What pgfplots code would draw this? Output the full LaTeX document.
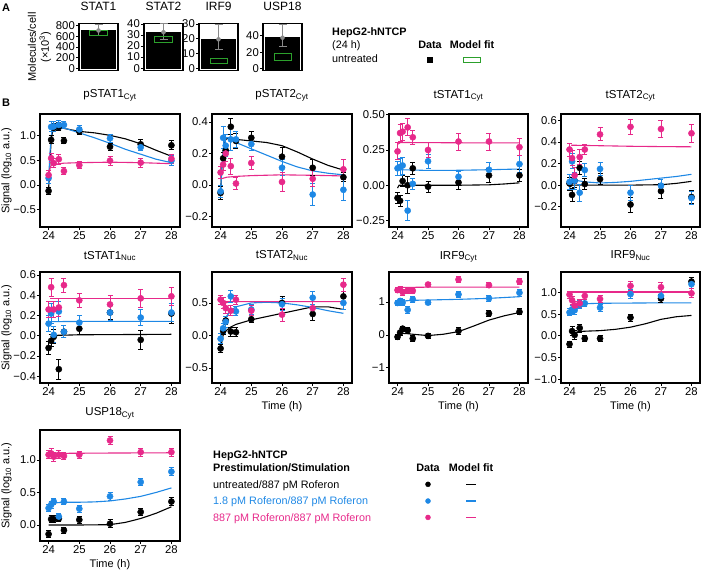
\documentclass[border=0pt]{standalone}
\usepackage{fontspec}
\setmainfont{Liberation Sans}
\usepackage{pgfplots}
\pgfplotsset{compat=1.18}

\definecolor{cblk}{HTML}{000000}
\definecolor{cblu}{HTML}{1E88E5}
\definecolor{cpnk}{HTML}{E7298A}
\definecolor{cgrn}{HTML}{2CA02C}
\definecolor{cerr}{HTML}{8A8A8A}

\newcommand\fTick{\fontsize{11.3}{12}\selectfont}
\newcommand\fTitle{\fontsize{11.5}{13}\selectfont}
\newcommand\fLab{\fontsize{11}{13}\selectfont}
\newcommand\fLeg{\fontsize{10.8}{12}\selectfont}

\pgfplotsset{
  base/.style={scale only axis, anchor=south west,
    axis line style={line width=1.2pt}, tick style={black, line width=0.8pt},
    tick align=outside, major tick length=3pt, xtick pos=bottom, ytick pos=left,
    tick label style={font=\fTick}, xticklabel style={inner sep=1pt}, yticklabel style={inner sep=1pt},
    title style={font=\fTitle, at={(axis description cs:0.5,1)}, anchor=base, inner sep=0pt},
    label style={font=\fLab}},
  panel/.style={base, width=140pt, xmin=23.72, xmax=28.28,
    xtick={24,25,26,27,28}, xticklabels={24,25,26,27,28}},
  sig/.style={ylabel={Signal (log\textsubscript{10} a.u.)},
    ylabel style={at={(axis description cs:-0.239,0.5)}, anchor=center}},
  tim/.style={xlabel={Time (h)},
    xlabel style={at={(axis description cs:0.5,0)}, anchor=center, yshift=-24pt}},
  fit/.style={line width=1.1pt, no marks},
  dat/.style={only marks, mark=*, mark size=3.1pt,
    error bars/y dir=both, error bars/y explicit,
    error bars/error bar style={line width=0.9pt, solid},
    error bars/error mark options={rotate=90, mark size=2.5pt, line width=0.9pt}},
  whisk/.style={cerr, only marks, mark=none, error bars/y dir=both, error bars/y explicit,
    error bars/error bar style={line width=1pt},
    error bars/error mark options={rotate=90, mark size=4pt, line width=1pt}},
  bar/.style={base, width=39pt, height=47.5pt, xmin=0.43, xmax=1.57, xtick=\empty,
    title style={yshift=6.5pt, font=\fontsize{12}{14}\selectfont}},
}

\begin{document}
\begin{tikzpicture}
\path[use as bounding box] (0pt,0pt) rectangle (701pt,-572pt);

% ---------- panel A ----------
\begin{axis}[bar, at={(79pt,-70.8pt)}, ymin=-45, ymax=845,
  ytick={0,200,400,600,800}, yticklabels={0,200,400,600,800}, title={STAT1},
  ylabel={Molecules/cell\\(×10\textsuperscript{3})},
  ylabel style={align=center, at={(axis description cs:-1.01,0.5)}, anchor=center}]
\addplot[ybar, bar width=1, fill=black, draw=black] coordinates {(1,710)};
\addplot[whisk] coordinates {(1,710) += (0,110) -= (0,100)};
\addplot[cgrn, line width=0.9pt] coordinates {(0.75,610)(1.25,610)(1.25,720)(0.75,720)(0.75,610)};
\end{axis}

\begin{axis}[bar, at={(144pt,-70.8pt)}, ymin=-2.4, ymax=40.6,
  ytick={0,10,20,30,40}, yticklabels={0,10,20,30,40}, title={STAT2}]
\addplot[ybar, bar width=1, fill=black, draw=black] coordinates {(1,32.5)};
\addplot[whisk] coordinates {(1,32.5) += (0,7.5) -= (0,6.5)};
\addplot[cgrn, line width=0.9pt] coordinates {(0.75,23.2)(1.25,23.2)(1.25,28.6)(0.75,28.6)(0.75,23.2)};
\end{axis}

\begin{axis}[bar, at={(199pt,-70.8pt)}, ymin=-1.8, ymax=30.5,
  ytick={0,10,20,30}, yticklabels={0,10,20,30}, title={IRF9}]
\addplot[ybar, bar width=1, fill=black, draw=black] coordinates {(1,19.6)};
\addplot[whisk] coordinates {(1,19.6) += (0,10.4) -= (0,6.7)};
\addplot[cgrn, line width=0.9pt] coordinates {(0.75,2.9)(1.25,2.9)(1.25,6.8)(0.75,6.8)(0.75,2.9)};
\end{axis}

\begin{axis}[bar, at={(263pt,-70.8pt)}, ymin=-2.4, ymax=55,
  ytick={0,20,40}, yticklabels={0,20,40}, title={USP18}]
\addplot[ybar, bar width=1, fill=black, draw=black] coordinates {(1,37.6)};
\addplot[whisk] coordinates {(1,37.6) += (0,16.4) -= (0,10.8)};
\addplot[cgrn, line width=0.9pt] coordinates {(0.75,10)(1.25,10)(1.25,18)(0.75,18)(0.75,10)};
\end{axis}

% ---------- panel B, row 1 ----------
\begin{axis}[panel, sig, at={(40pt,-227pt)}, height=113pt, title={pSTAT1\textsubscript{Cyt}},
  title style={yshift=10pt}, ymin=-0.845, ymax=1.43,
  ytick={-0.5,0,0.5,1}, yticklabels={−0.5,0.0,0.5,1.0}]
\addplot[cblk, fit] coordinates {(24,-0.1)(24.04,0.45)(24.08,0.85)(24.12,1.05)(24.17,1.13)(24.25,1.16)(24.35,1.16)(24.5,1.14)(25,1.08)(25.5,1.05)(26,1.0)(26.5,0.93)(27,0.83)(27.5,0.7)(28,0.58)};
\addplot[cblu, fit] coordinates {(24,0.1)(24.04,0.6)(24.08,0.95)(24.12,1.12)(24.17,1.18)(24.25,1.2)(24.35,1.19)(24.5,1.15)(25,1.05)(25.5,0.95)(26,0.84)(26.5,0.72)(27,0.62)(27.5,0.52)(28,0.45)};
\addplot[cpnk, fit] coordinates {(24,0.18)(24.05,0.35)(24.1,0.41)(24.2,0.42)(24.5,0.44)(25,0.45)(26,0.46)(27,0.45)(28,0.43)};
\addplot[cblk, dat] table[y error index=2]{
24 -0.12 0.07
24.083 0.91 0.08
24.167 1.15 0.08
24.333 1.17 0.08
24.5 0.89 0.06
25 1.08 0.07
26 0.77 0.07
27 0.82 0.09
28 0.80 0.09
};
\addplot[cblu, dat] table[y error index=2]{
24 0.14 0.1
24.083 1.17 0.1
24.167 1.18 0.1
24.333 1.21 0.09
24.5 1.21 0.08
25 1.12 0.08
26 0.94 0.08
27 0.76 0.07
28 0.49 0.1
};
\addplot[cpnk, dat] table[y error index=2]{
24 0.20 0.1
24.083 0.54 0.09
24.167 0.44 0.09
24.333 0.52 0.1
24.5 0.28 0.07
25 0.40 0.07
26 0.49 0.09
27 0.45 0.09
28 0.53 0.09
};
\end{axis}

\begin{axis}[panel, at={(212pt,-227pt)}, height=113pt, title={pSTAT2\textsubscript{Cyt}},
  title style={yshift=10pt}, ymin=-0.266, ymax=0.451,
  ytick={-0.2,0,0.2,0.4}, yticklabels={−0.2,0.0,0.2,0.4}]
\addplot[cblk, fit] coordinates {(24,-0.04)(24.04,0.1)(24.08,0.2)(24.12,0.26)(24.17,0.29)(24.25,0.3)(24.5,0.29)(25,0.28)(25.5,0.27)(26,0.25)(26.5,0.21)(27,0.165)(27.5,0.125)(28,0.095)};
\addplot[cblu, fit] coordinates {(24,-0.04)(24.04,0.1)(24.08,0.22)(24.12,0.28)(24.17,0.3)(24.25,0.3)(24.5,0.27)(25,0.23)(25.5,0.19)(26,0.15)(26.5,0.115)(27,0.09)(27.5,0.075)(28,0.065)};
\addplot[cpnk, fit] coordinates {(24.02,0.04)(24.2,0.05)(24.5,0.055)(25,0.06)(26,0.065)(27,0.062)(28,0.058)};
\addplot[cblk, dat] table[y error index=2]{
24 -0.05 0.04
24.083 0.17 0.04
24.167 0.22 0.04
24.333 0.37 0.05
24.5 0.28 0.05
25 0.30 0.04
26 0.18 0.06
27 0.11 0.05
28 0.05 0.03
};
\addplot[cblu, dat] table[y error index=2]{
24 -0.04 0.04
24.083 0.30 0.07
24.167 0.25 0.07
24.333 0.29 0.07
24.5 0.29 0.05
25 0.26 0.04
26 0.11 0.05
27 -0.06 0.07
28 -0.03 0.07
};
\addplot[cpnk, dat] table[y error index=2]{
24 0.08 0.04
24.083 0.13 0.04
24.167 0.20 0.05
24.333 0.12 0.05
24.5 0.01 0.04
25 0.14 0.04
26 0.02 0.06
27 0.04 0.05
28 0.10 0.065
};
\end{axis}

\begin{axis}[panel, at={(389pt,-227pt)}, width=139pt, height=113pt, title={tSTAT1\textsubscript{Cyt}},
  title style={yshift=10pt}, ymin=-0.296, ymax=0.505,
  ytick={-0.25,0,0.25,0.5}, yticklabels={−0.25,0.00,0.25,0.50}]
\addplot[cblk, fit] coordinates {(24,-0.02)(24.05,0.0)(25,0.0)(26,0.0)(27,0.003)(27.5,0.009)(28,0.017)};
\addplot[cblu, fit] coordinates {(24,0.12)(24.1,0.11)(25,0.105)(26,0.106)(27,0.11)(28,0.115)};
\addplot[cpnk, fit] coordinates {(24,0.29)(24.1,0.303)(25,0.302)(26,0.301)(27,0.3)(28,0.3)};
\addplot[cblk, dat] table[y error index=2]{
24 -0.09 0.04
24.083 -0.11 0.04
24.167 0.03 0.04
24.333 0.00 0.06
24.5 0.12 0.04
25 -0.01 0.04
26 0.02 0.05
27 0.07 0.05
28 0.07 0.04
};
\addplot[cblu, dat] table[y error index=2]{
24 0.12 0.05
24.083 0.13 0.06
24.167 0.14 0.06
24.333 -0.18 0.07
24.5 0.01 0.04
25 0.17 0.05
26 0.06 0.04
27 0.11 0.05
28 0.15 0.06
};
\addplot[cpnk, dat] table[y error index=2]{
24 0.24 0.06
24.083 0.37 0.06
24.167 0.38 0.06
24.333 0.41 0.06
24.5 0.34 0.05
25 0.25 0.05
26 0.31 0.06
27 0.31 0.06
28 0.27 0.06
};
\end{axis}

\begin{axis}[panel, at={(561pt,-227pt)}, width=139pt, height=113pt, title={tSTAT2\textsubscript{Cyt}},
  title style={yshift=10pt}, ymin=-0.388, ymax=0.659,
  ytick={-0.2,0,0.2,0.4,0.6}, yticklabels={−0.2,0.0,0.2,0.4,0.6}]
\addplot[cblk, fit] coordinates {(24,-0.02)(24.1,0.0)(25,0.0)(26,0.0)(27,0.004)(27.5,0.016)(28,0.035)};
\addplot[cblu, fit] coordinates {(24,0.08)(24.1,0.05)(24.5,0.03)(25,0.02)(25.5,0.025)(26,0.035)(26.5,0.05)(27,0.065)(27.5,0.08)(28,0.1)};
\addplot[cpnk, fit] coordinates {(24.05,0.37)(25,0.365)(26,0.36)(27,0.357)(28,0.355)};
\addplot[cblk, dat] table[y error index=2]{
24 0.015 0.06
24.083 -0.09 0.06
24.167 0.04 0.06
24.333 0.16 0.06
24.5 0.01 0.05
25 0.055 0.05
26 -0.18 0.07
27 -0.055 0.07
28 -0.11 0.06
};
\addplot[cblu, dat] table[y error index=2]{
24 0.03 0.07
24.083 0.22 0.07
24.167 0.04 0.08
24.333 -0.07 0.08
24.5 0.14 0.06
25 0.15 0.06
26 -0.07 0.07
27 -0.005 0.06
28 -0.12 0.06
};
\addplot[cpnk, dat] table[y error index=2]{
24 0.33 0.06
24.083 0.25 0.07
24.167 0.09 0.07
24.333 0.26 0.07
24.5 0.33 0.05
25 0.47 0.06
26 0.54 0.07
27 0.52 0.08
28 0.48 0.08
};
\end{axis}

% ---------- panel B, row 2 ----------
\begin{axis}[panel, sig, at={(40pt,-383pt)}, height=111pt, title={tSTAT1\textsubscript{Nuc}},
  title style={yshift=7pt}, ymin=-0.466, ymax=0.63,
  ytick={-0.4,-0.2,0,0.2,0.4,0.6}, yticklabels={−0.4,−0.2,0.0,0.2,0.4,0.6}]
\addplot[cblk, fit] coordinates {(24.1,-0.02)(24.3,0.005)(25,0.01)(26,0.012)(27,0.013)(28,0.015)};
\addplot[cblu, fit] coordinates {(24,0.12)(24.1,0.14)(25,0.142)(26,0.142)(27,0.142)(28,0.142)};
\addplot[cpnk, fit] coordinates {(24.05,0.37)(25,0.37)(26,0.37)(27,0.37)(28,0.37)};
\addplot[cblk, dat] table[y error index=2]{
24 -0.12 0.06
24.083 -0.05 0.06
24.167 -0.01 0.07
24.333 -0.33 0.1
24.5 0.04 0.06
25 0.07 0.06
26 0.23 0.07
27 -0.04 0.09
28 0.22 0.1
};
\addplot[cblu, dat] table[y error index=2]{
24 0.12 0.08
24.083 0.22 0.1
24.167 0.01 0.08
24.333 0.24 0.1
24.5 0.04 0.06
25 0.13 0.07
26 0.23 0.08
27 0.18 0.08
28 0.23 0.09
};
\addplot[cpnk, dat] table[y error index=2]{
24 0.26 0.08
24.083 0.48 0.09
24.167 0.26 0.08
24.333 0.28 0.09
24.5 0.50 0.07
25 0.35 0.07
26 0.31 0.09
27 0.37 0.09
28 0.39 0.09
};
\end{axis}

\begin{axis}[panel, tim, at={(212pt,-383pt)}, height=111pt, title={tSTAT2\textsubscript{Nuc}},
  title style={yshift=7pt}, ymin=-0.73, ymax=0.975,
  ytick={-0.5,0,0.5}, yticklabels={−0.5,0.0,0.5}]
\addplot[cblk, fit] coordinates {(24,-0.2)(24.08,0.0)(24.17,0.07)(24.33,0.13)(24.5,0.17)(25,0.24)(25.5,0.29)(26,0.34)(26.5,0.39)(27,0.44)(27.5,0.44)(28,0.4)};
\addplot[cblu, fit] coordinates {(24,-0.05)(24.08,0.15)(24.17,0.28)(24.33,0.38)(24.5,0.44)(25,0.5)(25.5,0.51)(26,0.5)(26.5,0.47)(27,0.43)(27.5,0.38)(28,0.34)};
\addplot[cpnk, fit] coordinates {(24,0.55)(24.1,0.52)(25,0.52)(26,0.52)(27,0.52)(28,0.52)};
\addplot[cblk, dat] table[y error index=2]{
24 -0.20 0.06
24.083 0.07 0.06
24.167 0.23 0.06
24.333 0.06 0.07
24.5 0.05 0.07
25 0.25 0.05
26 0.50 0.1
27 0.33 0.1
28 0.60 0.08
};
\addplot[cblu, dat] table[y error index=2]{
24 -0.05 0.08
24.083 0.11 0.08
24.167 0.21 0.08
24.333 0.60 0.09
24.5 0.37 0.07
25 0.40 0.07
26 0.48 0.09
27 0.58 0.1
28 0.50 0.1
};
\addplot[cpnk, dat] table[y error index=2]{
24 0.55 0.07
24.083 0.50 0.08
24.167 0.42 0.08
24.333 0.38 0.08
24.5 0.55 0.07
25 0.38 0.08
26 0.32 0.1
27 0.42 0.1
28 0.78 0.1
};
\end{axis}

\begin{axis}[panel, tim, at={(389pt,-383pt)}, width=139pt, height=111pt, title={IRF9\textsubscript{Cyt}},
  title style={yshift=7pt}, ymin=-1.46, ymax=1.91,
  ytick={-1,0,1}, yticklabels={−1,0,1}]
\addplot[cblk, fit] coordinates {(24,-0.05)(24.1,0.05)(24.3,0.04)(24.5,0.02)(25,-0.02)(25.5,0.02)(26,0.1)(26.5,0.27)(27,0.45)(27.5,0.58)(28,0.68)};
\addplot[cblu, fit] coordinates {(24,0.98)(24.2,1.03)(24.5,1.05)(25,1.06)(26,1.08)(27,1.11)(28,1.16)};
\addplot[cpnk, fit] coordinates {(24,1.4)(24.1,1.44)(25,1.45)(26,1.45)(27,1.45)(28,1.45)};
\addplot[cblk, dat] table[y error index=2]{
24 -0.06 0.08
24.083 0.07 0.08
24.167 0.19 0.08
24.333 0.14 0.09
24.5 -0.11 0.08
25 -0.03 0.07
26 0.12 0.1
27 0.65 0.09
28 0.70 0.09
};
\addplot[cblu, dat] table[y error index=2]{
24 0.97 0.08
24.083 1.03 0.09
24.167 0.98 0.09
24.333 0.76 0.1
24.5 1.08 0.08
25 0.98 0.07
26 1.23 0.09
27 1.11 0.08
28 1.28 0.1
};
\addplot[cpnk, dat] table[y error index=2]{
24 1.36 0.08
24.083 1.38 0.09
24.167 1.30 0.09
24.333 1.35 0.08
24.5 1.34 0.08
25 1.53 0.07
26 1.68 0.09
27 1.51 0.08
28 1.62 0.1
};
\end{axis}

\begin{axis}[panel, tim, at={(561pt,-383pt)}, width=139pt, height=111pt, title={IRF9\textsubscript{Nuc}},
  title style={yshift=7pt}, ymin=-1.085, ymax=1.47,
  ytick={-1,-0.5,0,0.5,1}, yticklabels={−1.0,−0.5,0.0,0.5,1.0}]
\addplot[cblk, fit] coordinates {(24.05,0.05)(24.3,0.1)(24.6,0.11)(25,0.12)(25.5,0.15)(26,0.2)(26.5,0.28)(27,0.38)(27.5,0.44)(28,0.47)};
\addplot[cblu, fit] coordinates {(24,0.55)(24.1,0.66)(24.2,0.71)(24.5,0.74)(25,0.75)(26,0.755)(27,0.76)(28,0.76)};
\addplot[cpnk, fit] coordinates {(24.05,1.01)(25,1.01)(26,1.01)(27,1.01)(28,1.01)};
\addplot[cblk, dat] table[y error index=2]{
24 -0.19 0.07
24.083 0.11 0.1
24.167 0.02 0.1
24.333 0.18 0.09
24.5 -0.06 0.07
25 -0.06 0.07
26 0.42 0.08
27 0.86 0.1
28 1.25 0.1
};
\addplot[cblu, dat] table[y error index=2]{
24 0.54 0.08
24.083 0.61 0.09
24.167 0.59 0.09
24.333 0.72 0.09
24.5 0.75 0.08
25 0.65 0.08
26 0.96 0.1
27 0.92 0.1
28 1.19 0.1
};
\addplot[cpnk, dat] table[y error index=2]{
24 0.95 0.08
24.083 0.82 0.09
24.167 0.70 0.09
24.333 0.75 0.09
24.5 0.92 0.08
25 0.85 0.08
26 1.15 0.1
27 1.12 0.1
28 0.98 0.1
};
\end{axis}

% ---------- panel B, row 3 ----------
\begin{axis}[panel, sig, tim, at={(40pt,-541pt)}, height=111pt, title={USP18\textsubscript{Cyt}},
  title style={yshift=8.3pt}, ymin=-0.246, ymax=1.46,
  ytick={0,0.5,1}, yticklabels={0.0,0.5,1.0}]
\addplot[cblk, fit] coordinates {(24,0.0)(25,0.0)(26,0.005)(26.5,0.04)(27,0.1)(27.5,0.18)(28,0.28)};
\addplot[cblu, fit] coordinates {(24,0.2)(24.1,0.3)(24.2,0.34)(24.5,0.35)(25,0.35)(25.5,0.355)(26,0.37)(26.5,0.4)(27,0.44)(27.5,0.5)(28,0.57)};
\addplot[cpnk, fit] coordinates {(24,1.1)(25,1.103)(26,1.106)(27,1.108)(28,1.11)};
\addplot[cblk, dat] table[y error index=2]{
24 -0.14 0.05
24.083 0.09 0.05
24.167 0.09 0.05
24.333 0.10 0.05
24.5 -0.08 0.05
25 0.08 0.05
26 0.02 0.06
27 0.20 0.06
28 0.36 0.06
};
\addplot[cblu, dat] table[y error index=2]{
24 0.26 0.05
24.083 0.31 0.05
24.167 0.36 0.05
24.333 0.13 0.05
24.5 0.36 0.05
25 0.25 0.05
26 0.44 0.06
27 0.66 0.05
28 0.82 0.06
};
\addplot[cpnk, dat] table[y error index=2]{
24 1.08 0.06
24.083 1.10 0.07
24.167 1.05 0.07
24.333 1.08 0.06
24.5 1.06 0.05
25 1.08 0.05
26 1.30 0.06
27 1.12 0.06
28 1.12 0.06
};
\end{axis}

% ---------- overlay: panel letters and legends ----------
\begin{axis}[at={(0pt,-572pt)}, anchor=south west, scale only axis, width=701pt, height=572pt,
  xmin=0, xmax=701, ymin=0, ymax=572, y dir=reverse, hide axis, clip=false]
\node[anchor=base west, inner sep=0pt, font=\fontsize{11}{13}\selectfont\bfseries] at (axis cs:2,11.7) {A};
\node[anchor=base west, inner sep=0pt, font=\fontsize{11}{13}\selectfont\bfseries] at (axis cs:2,106.7) {B};
% legend A
\node[anchor=base west, inner sep=0pt, font=\fLeg\bfseries] at (axis cs:332,35.3) {HepG2-hNTCP};
\node[anchor=base west, inner sep=0pt, font=\fLeg] at (axis cs:332,48.7) {(24 h)};
\node[anchor=base west, inner sep=0pt, font=\fLeg] at (axis cs:332,62.5) {untreated};
\node[anchor=base, inner sep=0pt, font=\fLeg\bfseries] at (axis cs:430,48.7) {Data};
\node[anchor=base, inner sep=0pt, font=\fLeg\bfseries] at (axis cs:472,48.7) {Model fit};
\addplot[only marks, mark=square*, mark size=2.5pt, black] coordinates {(430,59.5)};
\addplot[cgrn, line width=0.9pt] coordinates {(463.5,57)(480.5,57)(480.5,62.3)(463.5,62.3)(463.5,57)};
% legend B
\node[anchor=base west, inner sep=0pt, font=\fLeg\bfseries] at (axis cs:213,458) {HepG2-hNTCP};
\node[anchor=base west, inner sep=0pt, font=\fLeg\bfseries] at (axis cs:213,471) {Prestimulation/Stimulation};
\node[anchor=base west, inner sep=0pt, font=\fLeg, text=cblk] at (axis cs:213,488) {untreated/887 pM Roferon};
\node[anchor=base west, inner sep=0pt, font=\fLeg, text=cblu] at (axis cs:213,504.5) {1.8 pM Roferon/887 pM Roferon};
\node[anchor=base west, inner sep=0pt, font=\fLeg, text=cpnk] at (axis cs:213,521) {887 pM Roferon/887 pM Roferon};
\node[anchor=base, inner sep=0pt, font=\fLeg\bfseries] at (axis cs:428,471) {Data};
\node[anchor=base, inner sep=0pt, font=\fLeg\bfseries] at (axis cs:471,471) {Model fit};
\addplot[only marks, mark=*, mark size=2.5pt, cblk] coordinates {(428,484.3)};
\addplot[only marks, mark=*, mark size=2.5pt, cblu] coordinates {(428,501)};
\addplot[only marks, mark=*, mark size=2.5pt, cpnk] coordinates {(428,517.4)};
\addplot[cblk, line width=1.1pt] coordinates {(466,484.3)(476,484.3)};
\addplot[cblu, line width=1.1pt] coordinates {(466,501)(476,501)};
\addplot[cpnk, line width=1.1pt] coordinates {(466,517.4)(476,517.4)};
\end{axis}
\end{tikzpicture}
\end{document}
